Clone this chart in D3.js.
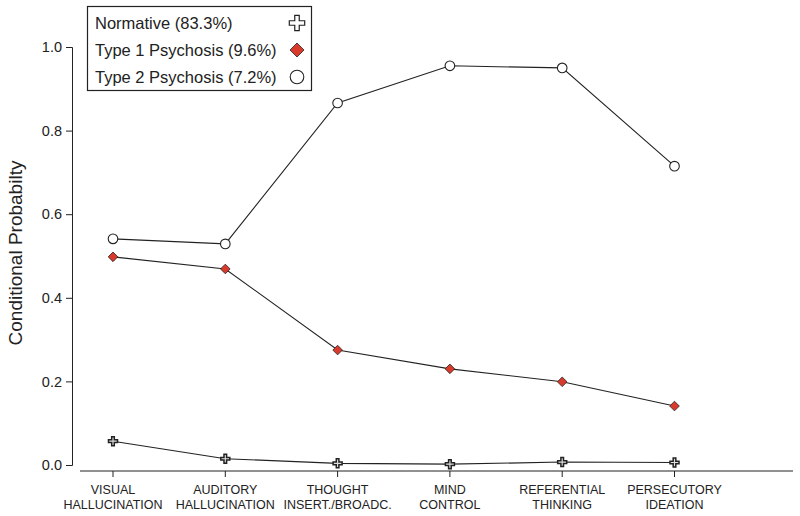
<!DOCTYPE html>
<html><head><meta charset="utf-8">
<script src="https://cdn.jsdelivr.net/npm/d3@7"></script>
<style>body{margin:0;background:#fff}svg{display:block;font-family:"Liberation Sans",Arial,sans-serif}</style>
</head><body><svg id="c" width="800" height="516"></svg>
<script>
const categories = [["VISUAL","HALLUCINATION"],["AUDITORY","HALLUCINATION"],["THOUGHT","INSERT./BROADC."],["MIND","CONTROL"],["REFERENTIAL","THINKING"],["PERSECUTORY","IDEATION"]];
const normative = [0.057, 0.015, 0.004, 0.002, 0.007, 0.006];
const type1 = [0.498, 0.469, 0.275, 0.230, 0.199, 0.141];
const type2 = [0.541, 0.529, 0.866, 0.955, 0.950, 0.715];
const yTicks = [0, 0.2, 0.4, 0.6, 0.8, 1.0];
const legendLabels = ["Normative (83.3%)", "Type 1 Psychosis (9.6%)", "Type 2 Psychosis (7.2%)"];

const svg = d3.select("#c");
const x = d3.scalePoint().domain(d3.range(6)).range([113, 674.5]);
const y = d3.scaleLinear().domain([0, 1]).range([465, 47]);
const ink = "#222";

// Y axis
const ya = svg.append("g").attr("transform","translate(72,0)")
  .call(d3.axisLeft(y).tickValues(yTicks).tickFormat(d3.format(".1f")).tickSizeOuter(0).tickSize(6).tickPadding(4));
ya.select(".domain").attr("stroke", ink);
ya.selectAll(".tick line").attr("stroke", ink);
ya.selectAll(".tick text").attr("font-size", 14.5).attr("fill", ink).attr("font-family","Liberation Sans, Arial, sans-serif");

// X axis
const xa = svg.append("g").attr("transform","translate(0,471)");
xa.append("line").attr("x1",80).attr("x2",793).attr("y1",0).attr("y2",0).attr("stroke",ink);
categories.forEach((c,i)=>{
  xa.append("line").attr("x1",x(i)).attr("x2",x(i)).attr("y1",0).attr("y2",6).attr("stroke",ink);
  const t = xa.append("text").attr("text-anchor","middle").attr("font-size",12.5).attr("fill",ink);
  c.forEach((s,j)=>t.append("tspan").attr("x",x(i)).attr("y",23+j*15).text(s));
});

// Y label
svg.append("text").attr("transform","translate(22,253) rotate(-90)").attr("text-anchor","middle")
  .attr("font-size",19).attr("fill",ink).text("Conditional Probabilty");

const line = d3.line().x((d,i)=>x(i)).y(d=>y(d));
[type2, type1, normative].forEach(s=>{
  svg.append("path").datum(s).attr("d",line).attr("fill","none").attr("stroke",ink).attr("stroke-width",1.1);
});

const crossPath = "M-1.6,-5.5H1.6V-1.6H5.5V1.6H1.6V5.5H-1.6V1.6H-5.5V-1.6H-1.6Z";
function cross(g, cx, cy, s, sw, fill){ g.append("path").attr("d",crossPath).attr("transform",`translate(${cx},${cy}) scale(${s})`).attr("fill",fill).attr("stroke",ink).attr("stroke-width",sw/s); }
function diamond(g, cx, cy, r){ g.append("path").attr("d",`M0,${-r}L${r},0L0,${r}L${-r},0Z`).attr("transform",`translate(${cx},${cy})`).attr("fill","#d83a2c").attr("stroke",ink).attr("stroke-width",0.8); }
function circ(g, cx, cy, r){ g.append("circle").attr("cx",cx).attr("cy",cy).attr("r",r).attr("fill","#fff").attr("stroke",ink).attr("stroke-width",1.1); }

const m = svg.append("g");
type2.forEach((v,i)=>circ(m, x(i), y(v), 4.8));
type1.forEach((v,i)=>diamond(m, x(i), y(v), 4.8));
normative.forEach((v,i)=>cross(m, x(i), y(v), 0.82, 1.5, "#ddd"));

// Legend
const lg = svg.append("g");
lg.append("rect").attr("x",87.5).attr("y",6.5).attr("width",224).attr("height",84).attr("fill","#fff").attr("stroke",ink).attr("stroke-width",1.2);
legendLabels.forEach((l,i)=>{
  lg.append("text").attr("x",95).attr("y",29+i*27).attr("font-size",16.5).attr("fill",ink).text(l);
});
cross(lg, 297, 23, 1.4, 1.2, "#fff");
diamond(lg, 297, 50, 7);
circ(lg, 297, 77, 6.8);
</script></body></html>
